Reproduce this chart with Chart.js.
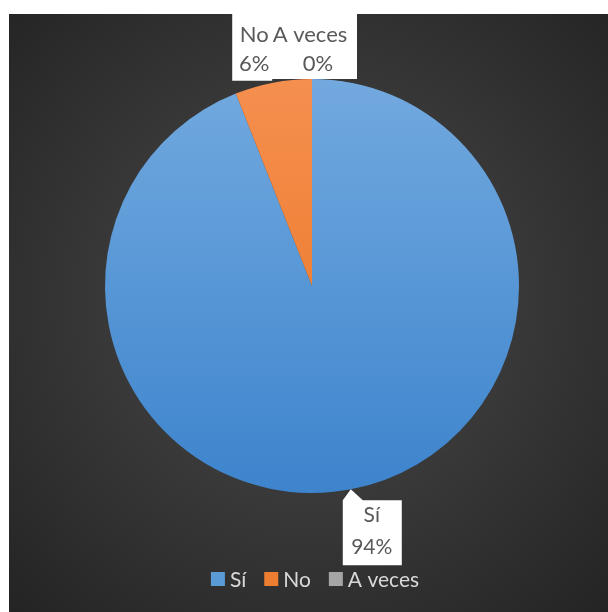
<!DOCTYPE html>
<html>
<head>
<meta charset="utf-8">
<script src="https://cdn.jsdelivr.net/npm/chart.js@4"></script>
<style>
  html, body { margin: 0; padding: 0; background: #fff; }
  #wrap { width: 608px; height: 612px; }
</style>
</head>
<body>
<div id="wrap"><canvas id="pie" width="608" height="612"></canvas></div>
<script>
// data
const categories = ["Sí", "No", "A veces"];
const values = [94, 6, 0];
const percentLabels = ["94%", "6%", "0%"];

const legendColors = ["#5b9bd5", "#ed7d31", "#a5a5a5"];
const FONT = "Lato, 'Open Sans', sans-serif";

// slice fill, light at top, darker at bottom
function sliceFill(ctx, i) {
  const area = ctx.chart.chartArea;
  if (!area) return legendColors[i];
  const g = ctx.chart.ctx.createLinearGradient(0, area.top, 0, area.bottom);
  if (i === 0) { g.addColorStop(0, "#72a9df"); g.addColorStop(1, "#3d84cd"); }
  else if (i === 1) { g.addColorStop(0, "#f58f4f"); g.addColorStop(1, "#e9731f"); }
  else { g.addColorStop(0, "#b5b5b5"); g.addColorStop(1, "#939393"); }
  return g;
}

const backdrop = {
  id: "backdrop",
  beforeDraw(chart) {
    const c = chart.ctx;
    c.save();
    c.fillStyle = "#fff";
    c.fillRect(0, 0, chart.width, chart.height);
    const g = c.createRadialGradient(310, 300, 0, 310, 300, 430);
    g.addColorStop(0, "#4b4b4b");
    g.addColorStop(1, "#242424");
    c.fillStyle = g;
    c.fillRect(9, 14, chart.width - 9, chart.height - 14);
    c.restore();
  }
};

// label boxes: offsets from the arc edge at the slice's mid angle
const labelBoxes = [
  { dx: 21, l1: 26, l2: 58, box: [-8, 11, 51, 76], tail: true },
  { dx: -19, l1: -48, l2: -19, box: [-41, -71, -1, -2] },
  { dx: -2, dx2: 6, l1: -44, l2: -15, box: [-42, -67, 45, 0] }
];

const labelsAndLegend = {
  id: "labelsAndLegend",
  afterDatasetsDraw(chart) {
    const c = chart.ctx;
    const meta = chart.getDatasetMeta(0);
    c.save();
    c.textAlign = "center";
    c.textBaseline = "middle";
    meta.data.forEach((arc, i) => {
      const mid = (arc.startAngle + arc.endAngle) / 2;
      const tx = arc.x + Math.cos(mid) * arc.outerRadius;
      const ty = arc.y + Math.sin(mid) * arc.outerRadius;
      const b = labelBoxes[i];
      c.fillStyle = "#fff";
      c.beginPath();
      if (b.tail) {
        c.moveTo(tx, ty);
        c.lineTo(tx + 12, ty + b.box[1]);
        c.lineTo(tx + b.box[2], ty + b.box[1]);
        c.lineTo(tx + b.box[2], ty + b.box[3]);
        c.lineTo(tx + b.box[0], ty + b.box[3]);
        c.lineTo(tx + b.box[0], ty + b.box[1]);
        c.closePath();
      } else {
        c.rect(tx + b.box[0], ty + b.box[1], b.box[2] - b.box[0], b.box[3] - b.box[1]);
      }
      c.fill();
      c.font = (i === 0 ? "21px " : "22px ") + FONT;
      c.fillStyle = "#595959";
      c.fillText(categories[i], tx + b.dx, ty + b.l1);
      c.fillText(percentLabels[i], tx + (b.dx2 !== undefined ? b.dx2 : b.dx), ty + b.l2);
    });

    // legend
    c.font = "21px " + FONT;
    c.textAlign = "left";
    const sq = 14, gap = 5, between = 18;
    const widths = categories.map(t => c.measureText(t).width);
    let total = 0;
    widths.forEach(w => { total += sq + gap + w; });
    total += between * (categories.length - 1);
    let x = 315 - total / 2;
    const y = 579;
    categories.forEach((t, i) => {
      c.fillStyle = legendColors[i];
      c.fillRect(x, y - sq / 2, sq, sq);
      x += sq + gap;
      c.fillStyle = "#d9d9d9";
      c.fillText(t, x, y + 1);
      x += widths[i] + between;
    });
    c.restore();
  }
};

new Chart(document.getElementById("pie"), {
  type: "pie",
  data: {
    labels: categories,
    datasets: [{
      data: values,
      backgroundColor: ctx => sliceFill(ctx, ctx.dataIndex),
      borderWidth: 0
    }]
  },
  options: {
    responsive: false,
    devicePixelRatio: 1,
    animation: false,
    layout: { padding: { left: 105, right: 89, top: 79, bottom: 119 } },
    plugins: {
      legend: { display: false },
      tooltip: { enabled: false }
    }
  },
  plugins: [backdrop, labelsAndLegend]
});
</script>
</body>
</html>
